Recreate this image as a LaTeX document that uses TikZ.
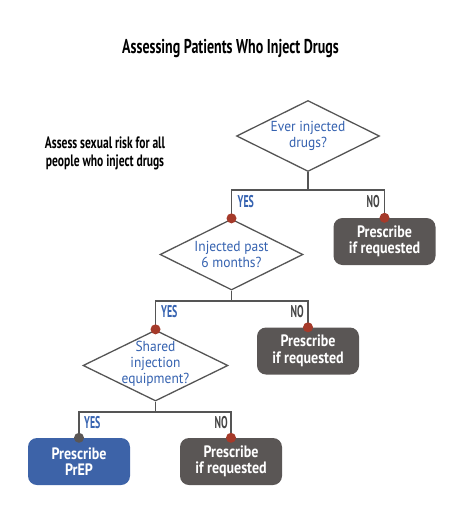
\documentclass[tikz,border=0pt]{standalone}
\usepackage{fontspec}
\setmainfont{PT Sans}
\newfontfamily\bodyfont[FakeStretch=0.93]{PT Sans}
\newfontfamily\boxfont[FakeStretch=0.85]{PT Sans}
\newfontfamily\condfont[FakeStretch=0.7]{PT Sans}
\newfontfamily\labfont[FakeStretch=0.58]{PT Sans}
\usetikzlibrary{shapes.geometric}
\definecolor{qblue}{HTML}{3562B0}
\definecolor{boxblue}{HTML}{3D63A8}
\definecolor{boxgray}{HTML}{5A5655}
\definecolor{dotred}{HTML}{A53A2A}
\definecolor{linegray}{HTML}{555555}
\tikzset{
  question/.style={diamond, draw=linegray, line width=1.3pt, fill=white, inner sep=0pt,
    minimum width=#1, minimum height=71pt},
  question/.default=143pt,
  qtext/.style={align=center, text=qblue, inner sep=0pt,
    font=\bodyfont\fontsize{14.5}{16}\selectfont},
  outbox/.style={rectangle, rounded corners=9pt, fill=boxgray, text=white, align=center,
    minimum width=102pt, minimum height=47pt, inner sep=0pt,
    font=\boxfont\bfseries\fontsize{16.5}{16.5}\selectfont},
  prepbox/.style={outbox, fill=boxblue},
  conn/.style={draw=linegray, line width=1.3pt},
  yeslab/.style={anchor=west, text=qblue, inner sep=0pt, font=\labfont\bfseries\fontsize{17}{17}\selectfont},
  nolab/.style={anchor=east, text=linegray!80!black, inner sep=0pt, font=\labfont\bfseries\fontsize{17}{17}\selectfont},
  reddot/.style={fill=dotred},
  graydot/.style={fill=boxgray},
}
\begin{document}
\begin{tikzpicture}[x=1pt,y=-1pt]
\useasboundingbox (0,0) rectangle (473,512);
\node[font=\condfont\bfseries\fontsize{20}{22}\selectfont] (title) at (230.5,49) {Assessing Patients Who Inject Drugs};
\node[align=center, font=\condfont\bfseries\fontsize{16.5}{18}\selectfont] (note) at (105,153) {Assess sexual risk for all\\people who inject drugs};

\node[question] (d1) at (308,136) {};
\node[question] (d2) at (231.5,254.5) {};
\node[question=145pt] (d3) at (155.5,365.5) {};
\node[qtext] (t1) at (d1.center) {Ever injected\\drugs?};
\node[qtext] (t2) at (d2.center) {Injected past\\6 months?};
\node[qtext] (t3) at ([yshift=2pt]d3.center) {Shared\\injection\\equipment?};

\node[outbox] (b1) at (384.5,241.5) {Prescribe\\if requested};
\node[outbox] (b2) at (308,351) {Prescribe\\if requested};
\node[prepbox] (b4) at (79,461.5) {Prescribe\\PrEP};
\node[outbox] (b3) at (231,461.5) {Prescribe\\if requested};

\coordinate (j1) at (308,190);
\coordinate (j2) at (231.5,301);
\coordinate (j3) at (155.5,412);

\draw[conn] (d1.south) -- (j1);
\draw[conn] (j1) -| (d2.north);
\draw[conn] (j1) -| (b1.north);
\draw[conn] (d2.south) -- (j2);
\draw[conn] (j2) -| (d3.north);
\draw[conn] (j2) -| (b2.north);
\draw[conn] (d3.south) -- (j3);
\draw[conn] (j3) -| (b4.north);
\draw[conn] (j3) -| (b3.north);

\fill[reddot] (d2.north) circle (5pt);
\fill[reddot] (b1.north) circle (5pt);
\fill[reddot] (d3.north) circle (5pt);
\fill[reddot] (b2.north) circle (5pt);
\fill[graydot] (b4.north) circle (5pt);
\fill[reddot] (b3.north) circle (5pt);

\node[yeslab] (y1) at (237.5,202) {YES};
\node[nolab] (n1) at (380,202) {NO};
\node[yeslab] (y2) at (161,312) {YES};
\node[nolab] (n2) at (304,312) {NO};
\node[yeslab] (y3) at (84,423) {YES};
\node[nolab] (n3) at (228,423) {NO};
\end{tikzpicture}
\end{document}
